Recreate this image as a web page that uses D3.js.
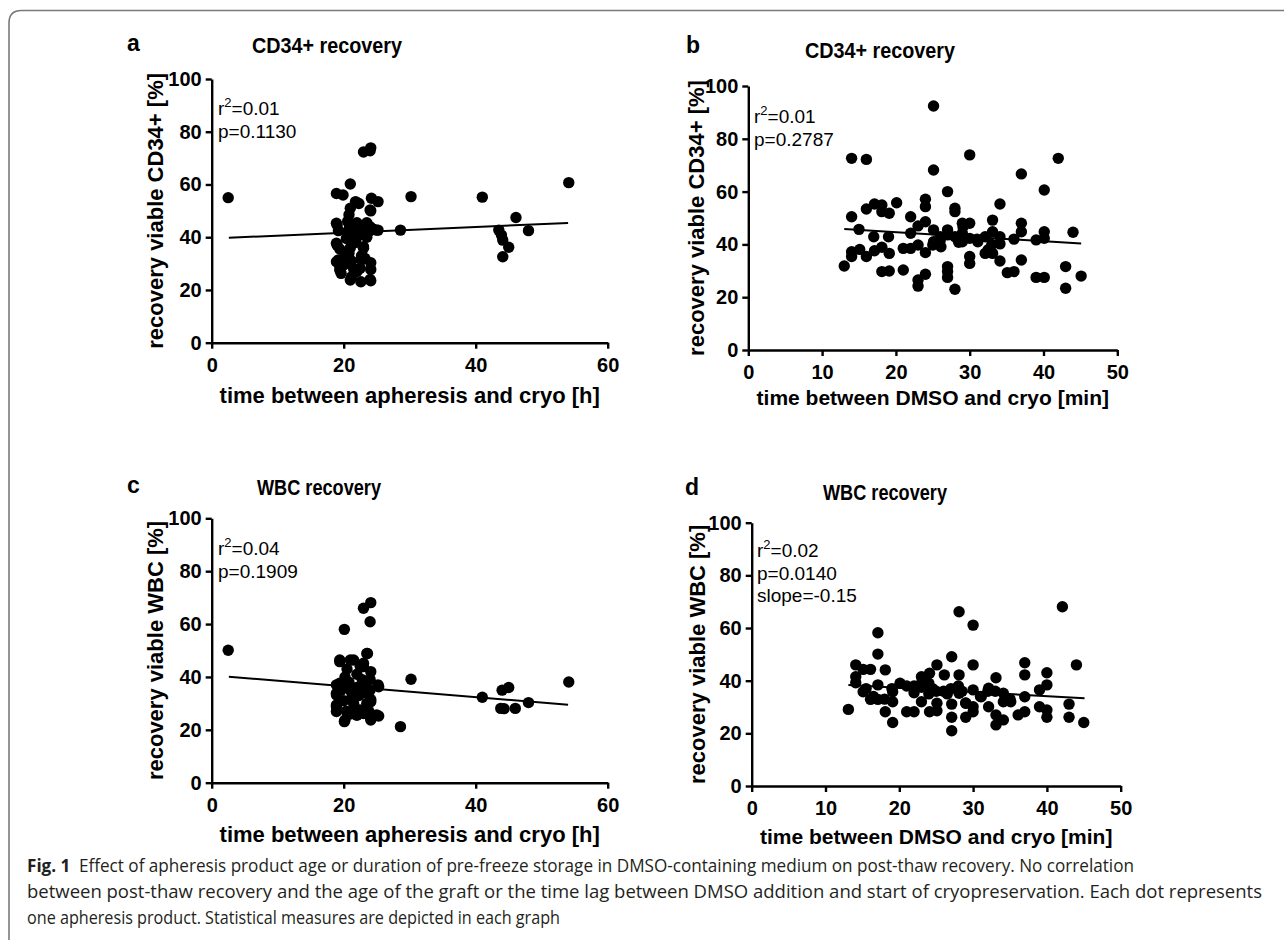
<!DOCTYPE html>
<html>
<head>
<meta charset="utf-8">
<script src="https://cdn.jsdelivr.net/npm/d3@7"></script>
<style>
  body { margin: 0; background: #fff; }
  svg { display: block; }
</style>
</head>
<body>
<div id="plot"></div>
<script>
// recovery [%] against hours between apheresis and cryo, or minutes between DMSO and cryo
var cd34Apheresis = [
  [2.5, 55.0], [21.0, 60.2], [18.9, 56.6], [19.9, 56.0], [21.8, 53.5], [24.2, 54.8], [25.2, 53.5],
  [24.0, 50.3], [23.0, 72.3], [24.0, 72.8], [24.1, 73.9], [30.2, 55.4], [41.0, 55.2], [54.1, 60.7],
  [46.1, 47.5], [48.0, 42.5], [43.5, 42.7], [43.9, 40.8], [44.1, 38.9], [45.0, 36.2], [44.1, 32.6],
  [28.6, 42.7], [19.0, 44.6], [18.9, 45.3], [19.2, 42.5], [19.0, 37.0], [18.9, 37.7], [19.4, 35.5],
  [19.2, 31.4], [18.9, 30.7], [19.4, 29.0], [19.4, 27.6], [19.6, 26.3], [20.2, 33.0], [20.4, 39.5],
  [20.5, 42.0], [20.6, 46.0], [20.8, 48.5], [21.0, 51.0], [20.9, 44.0], [21.0, 41.0], [21.0, 36.0],
  [20.8, 34.0], [21.2, 31.0], [21.2, 25.0], [21.0, 23.8], [21.5, 28.0], [21.8, 38.0], [22.0, 43.5],
  [22.0, 45.5], [22.2, 40.5], [22.3, 52.8], [22.5, 28.2], [22.6, 23.1], [22.7, 31.4], [22.7, 33.0],
  [23.0, 35.8], [23.0, 36.4], [23.2, 42.0], [23.2, 44.0], [23.5, 45.5], [23.5, 40.0], [24.0, 42.5],
  [24.1, 30.3], [24.1, 27.8], [24.1, 23.5], [24.0, 24.0], [24.1, 50.0], [24.0, 44.0], [24.5, 43.0],
  [25.0, 42.7], [25.2, 42.7], [23.2, 32.0], [22.0, 27.0], [20.0, 29.5]
]
var cd34Dmso = [
  [25.1, 92.4], [14, 72.6], [16, 72.2], [30, 73.9], [25.1, 68.2], [42, 72.6], [37, 66.7], [40.1, 60.6],
  [27, 60], [14, 50.5], [15, 45.7], [16, 53.4], [17.1, 55.3], [18.1, 54.9], [18.1, 52.4], [19.1, 51.8],
  [20.1, 55.8], [17, 42.9], [19, 42.9], [14, 37.2], [14, 35.4], [15.1, 38.1], [16, 35.4], [17.1, 37.6],
  [18.1, 38.9], [19.1, 36.6], [18.1, 29.7], [19.1, 29.9], [13, 31.8], [21, 30.3], [21, 38.5], [22, 50.5],
  [22, 44.2], [22, 38.5], [23, 47], [23, 39.8], [23, 26.5], [23, 24.2], [24, 57.1], [24, 54.3], [24, 48.6],
  [24, 36.9], [24, 28.7], [25.1, 45.5], [25.1, 41], [26.1, 39.1], [27, 45.5], [27, 43.6], [27, 31.6],
  [27, 29.7], [27, 27.5], [28, 53.7], [28, 52.4], [28, 42.9], [28, 23], [29, 48], [29, 41], [30, 48],
  [30, 42.3], [30, 35.4], [30, 32.8], [31.1, 41], [32.1, 42.9], [32.1, 36.6], [33.1, 49.2], [33.1, 44.8],
  [33.1, 36.6], [34.1, 55.3], [34.1, 42.9], [34.1, 40.2], [34.1, 33.7], [35.1, 29.3], [36, 29.7], [37, 48],
  [37, 44.8], [37, 34.1], [39, 41.7], [39, 27.5], [40.1, 44.8], [40.1, 42.3], [40.1, 27.5], [43, 31.6],
  [43, 23.4], [44, 44.6], [45.1, 28], [29.1, 46.7], [26, 42.9], [29, 44.2], [25, 39.8], [26, 41.5],
  [28.5, 40.8], [31, 42], [32.5, 38], [33, 40], [36, 42]
]
var wbcApheresis = [
  [2.5, 50.1], [20.1, 58], [23, 66], [24.1, 68.1], [24, 60.9], [23.6, 48.9], [20.1, 23.1], [28.6, 21.2],
  [30.2, 39.1], [41, 32.3], [44, 35], [45, 36], [43.8, 28.1], [44.3, 28], [46, 28.1], [48, 30.3],
  [54.1, 38.1], [25.3, 36.3], [25.3, 25.2], [24.1, 23.7], [24.1, 30.6], [24.1, 31.5], [24.1, 42], [23, 43.9],
  [19.4, 46.4], [21, 46.4], [18.9, 37], [18.9, 33.2], [18.9, 28.8], [18.9, 26.9], [22.5, 27.5], [23, 26.2],
  [19.4, 45.8], [23.5, 48.9], [21.5, 46.4], [23, 45.2], [19.4, 37.6], [25.2, 37], [18.9, 33.8], [24, 31.3],
  [18.9, 29.4], [20.2, 23.7], [25, 25.6], [24, 25], [20.2, 40], [20.5, 43], [20.8, 38], [21, 35], [21.2, 32],
  [21.5, 30], [21.8, 28], [22, 41], [22, 36], [22.3, 33], [22.5, 44], [22.8, 39], [23, 37], [23.3, 34],
  [23.5, 30], [20, 31], [19.6, 35], [20.4, 27], [21, 26], [22, 25.5], [24, 39], [24, 35], [23.8, 27]
]
var wbcDmso = [
  [13.1, 29.1], [14.1, 46], [14.1, 41.5], [14.1, 39.2], [15.1, 44.3], [16.1, 44.3], [15.1, 35.8], [16.1, 32.9],
  [17.1, 58.2], [17.1, 50.1], [17.1, 38.4], [17.1, 32.9], [18.1, 44.1], [18.1, 28.2], [19.1, 35.8], [19.1, 32],
  [19.1, 24.1], [20.1, 39], [21, 28.2], [22, 28.2], [22, 35.4], [23, 41.5], [23, 32], [24.1, 42.8], [24.1, 28.2],
  [25.1, 46], [25.1, 31.4], [25.1, 28.6], [26.1, 42.2], [27.1, 49.1], [27.1, 31.1], [27.1, 26.1], [27.1, 21],
  [28.1, 66.2], [28.1, 42.2], [28.1, 35.2], [29, 31.4], [29, 26.1], [30, 61.1], [30, 46], [30, 36.5], [30, 30.1],
  [30, 28.2], [31.1, 33.9], [32.1, 37.1], [32.1, 30.1], [33.1, 41.1], [33.1, 27], [33.1, 23.2], [34.1, 35.2],
  [34.1, 32], [34.1, 25.1], [35.1, 32], [36.1, 27], [37, 46.8], [37, 42.2], [37, 33.9], [37, 28.2], [39, 36.5],
  [39, 30.1], [40, 43], [40, 38.4], [40, 28.9], [40, 26.1], [42.1, 68.1], [43, 31.1], [43, 26.1], [44, 46],
  [45, 24.1], [15.5, 37], [16.5, 34], [18, 33], [19, 37], [21, 38], [22, 38], [23, 39], [23.5, 40], [24, 39],
  [24.5, 37], [25, 36], [26, 36], [27, 37], [28, 38], [29, 31.5], [31, 34], [32, 36], [33, 36], [35, 33],
  [24, 35], [23, 37.5], [26.5, 35], [28.5, 36]
]

// linear fit end points
var fitCd34Apheresis = [[2.6, 39.8], [54, 45.4]]
var fitCd34Dmso = [[13, 45.8], [45.1, 40.3]]
var fitWbcApheresis = [[2.6, 40.1], [54, 29.5]]
var fitWbcDmso = [[13.1, 38.4], [45.1, 33.3]]

var hourTicks = [0, 20, 40, 60]
var minuteTicks = [0, 10, 20, 30, 40, 50]
var recoveryTicks = [0, 20, 40, 60, 80, 100]

var panelLetters = ['a', 'b', 'c', 'd']
var panelTitles = ['CD34+ recovery', 'CD34+ recovery', 'WBC recovery', 'WBC recovery']
var xTitles = ['time between apheresis and cryo [h]', 'time between DMSO and cryo [min]',
  'time between apheresis and cryo [h]', 'time between DMSO and cryo [min]']
var yTitles = ['recovery viable CD34+ [%]', 'recovery viable CD34+ [%]',
  'recovery viable WBC [%]', 'recovery viable WBC [%]']
var r2Values = ['0.01', '0.01', '0.04', '0.02']
var otherStats = [['p=0.1130'], ['p=0.2787'], ['p=0.1909'], ['p=0.0140', 'slope=-0.15']]

var captionBold = 'Fig. 1'
var captionLines = [
  'Effect of apheresis product age or duration of pre-freeze storage in DMSO-containing medium on post-thaw recovery. No correlation',
  'between post-thaw recovery and the age of the graft or the time lag between DMSO addition and start of cryopreservation. Each dot represents',
  'one apheresis product. Statistical measures are depicted in each graph'
]

var panelData = [cd34Apheresis, cd34Dmso, wbcApheresis, wbcDmso]
var panelFits = [fitCd34Apheresis, fitCd34Dmso, fitWbcApheresis, fitWbcDmso]
var panelXTicks = [hourTicks, minuteTicks, hourTicks, minuteTicks]

var frames = [
  { left: 211.7, right: 607.7, top: 79, bottom: 342.7, letterX: 127, letterY: 51, titleX: 327, titleY: 53, titleW: 150, statX: 218, statY: 115, xTitleY: 403, xTitleSize: 22, yTitleX: 155 },
  { left: 748.3, right: 1117.3, top: 86, bottom: 350, letterX: 686, letterY: 53, titleX: 880, titleY: 58, titleW: 150, statX: 754, statY: 123, xTitleY: 405, xTitleSize: 21, yTitleX: 696 },
  { left: 211.7, right: 607.7, top: 518.3, bottom: 782.7, letterX: 127, letterY: 493, titleX: 319, titleY: 495, titleW: 124, statX: 218, statY: 555, xTitleY: 842, xTitleSize: 22, yTitleX: 155 },
  { left: 751.7, right: 1120.7, top: 522.7, bottom: 786, letterX: 685, letterY: 495, titleX: 885, titleY: 500, titleW: 124, statX: 757, statY: 557, xTitleY: 844, xTitleSize: 21, yTitleX: 697 }
]

var font = "'Liberation Sans', Arial, Helvetica, sans-serif"
var width = 1284
var height = 940

var svg = d3
  .select('#plot')
  .append('svg')
  .attr('width', width)
  .attr('height', height)

// rounded frame, open to the right and bottom
svg
  .append('path')
  .attr('d', 'M9,940 V23 Q9,10.5 21.5,10.5 H1284')
  .style('fill', 'none')
  .style('stroke', '#7a7a7a')
  .style('stroke-width', 1.6)

function drawPanel(i) {
  var f = frames[i]
  var xMax = panelXTicks[i][panelXTicks[i].length - 1]

  var xScale = d3.scaleLinear().domain([0, xMax]).range([f.left, f.right])
  var yScale = d3.scaleLinear().domain([0, 100]).range([f.bottom, f.top])

  var g = svg.append('g').attr('class', 'panel')

  g.append('text')
    .attr('x', f.letterX)
    .attr('y', f.letterY)
    .style('font', 'bold 23px ' + font)
    .text(panelLetters[i])

  g.append('text')
    .attr('x', f.titleX - f.titleW / 2)
    .attr('y', f.titleY)
    .attr('textLength', f.titleW)
    .attr('lengthAdjust', 'spacingAndGlyphs')
    .style('font', 'bold 22px ' + font)
    .text(panelTitles[i])

  var xAxis = d3.axisBottom(xScale).tickValues(panelXTicks[i]).tickSize(6).tickSizeOuter(0).tickPadding(9)
  var yAxis = d3.axisLeft(yScale).tickValues(recoveryTicks).tickSize(6).tickSizeOuter(0).tickPadding(4)

  var gx = g.append('g')
    .attr('class', 'x axis')
    .attr('transform', 'translate(0,' + f.bottom + ')')
    .call(xAxis)
  var gy = g.append('g')
    .attr('class', 'y axis')
    .attr('transform', 'translate(' + f.left + ',0)')
    .call(yAxis)

  ;[gx, gy].forEach(function(a) {
    a.select('.domain').style('stroke', '#000').style('stroke-width', 2.4)
    a.selectAll('.tick line').style('stroke', '#000').style('stroke-width', 2.4)
    a.selectAll('.tick text')
      .style('font', 'bold 20px ' + font)
      .style('fill', '#000')
  })

  g.append('text')
    .attr('x', (f.left + f.right) / 2)
    .attr('y', f.xTitleY)
    .attr('text-anchor', 'middle')
    .style('font', 'bold ' + f.xTitleSize + 'px ' + font)
    .text(xTitles[i])

  g.append('text')
    .attr('transform', 'translate(' + f.yTitleX + ',' + (f.top + f.bottom) / 2 + ') rotate(-90)')
    .attr('text-anchor', 'middle')
    .attr('dy', '0.35em')
    .style('font', 'bold 22px ' + font)
    .text(yTitles[i])

  // stats block
  var st = g.append('text')
    .attr('x', f.statX)
    .attr('y', f.statY)
    .style('font', '19px ' + font)
  st.append('tspan').text('r')
  st.append('tspan').attr('dy', -8).style('font-size', '13px').text('2')
  st.append('tspan').attr('dy', 8).text('=' + r2Values[i])
  otherStats[i].forEach(function(s, k) {
    g.append('text')
      .attr('x', f.statX)
      .attr('y', f.statY + 22.7 * (k + 1))
      .style('font', '19px ' + font)
      .text(s)
  })

  g.append('g')
    .selectAll('circle')
    .data(panelData[i])
    .enter()
    .append('circle')
    .attr('cx', function(d) {
      return xScale(d[0])
    })
    .attr('cy', function(d) {
      return yScale(d[1])
    })
    .attr('r', 5.7)
    .style('fill', '#000')

  var fitLine = d3
    .line()
    .x(function(d) {
      return xScale(d[0])
    })
    .y(function(d) {
      return yScale(d[1])
    })

  g.append('path')
    .datum(panelFits[i])
    .attr('d', fitLine)
    .style('fill', 'none')
    .style('stroke', '#000')
    .style('stroke-width', 2)
}

for (var i = 0; i < 4; i++) {
  drawPanel(i)
}

// caption, squeezed to the measured line widths
var captionWidths = [1107, 1235, 533]
var captionY = [872, 898, 924]
captionLines.forEach(function(line, k) {
  var t = svg.append('text')
    .attr('x', 27)
    .attr('y', captionY[k])
    .attr('textLength', captionWidths[k])
    .attr('lengthAdjust', 'spacingAndGlyphs')
    .style('font', "18.5px 'Open Sans', 'Noto Sans', sans-serif")
    .style('fill', '#231f20')
  if (k === 0) {
    t.append('tspan').style('font-weight', 'bold').text(captionBold)
    t.append('tspan').text('\u2002' + line)
  } else {
    t.text(line)
  }
})
</script>
</body>
</html>
